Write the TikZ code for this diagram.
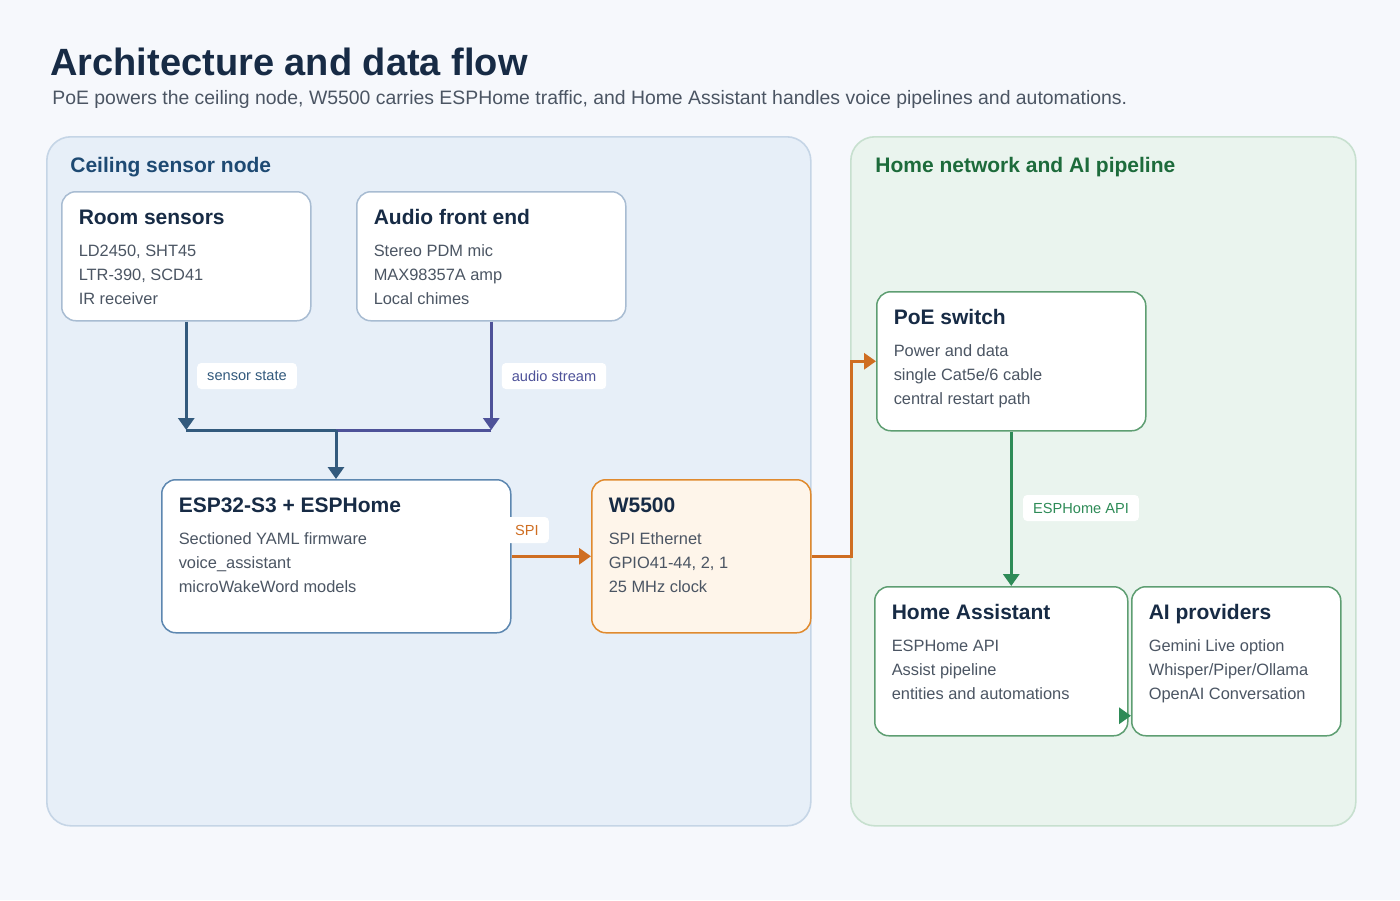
\documentclass[tikz,border=0pt]{standalone}
\usepackage{fontspec}
\setmainfont{Liberation Sans}
\usetikzlibrary{arrows.meta,positioning,backgrounds}
\definecolor{pagebg}{RGB}{246,248,252}
\definecolor{titlenavy}{RGB}{23,43,69}
\definecolor{bodygrey}{RGB}{75,85,99}
\definecolor{ceilingfill}{RGB}{231,239,248}
\definecolor{ceilingline}{RGB}{197,213,230}
\definecolor{ceilingtext}{RGB}{30,74,115}
\definecolor{homefill}{RGB}{234,244,238}
\definecolor{homeline}{RGB}{199,224,207}
\definecolor{hometext}{RGB}{29,107,59}
\definecolor{cardline}{RGB}{168,188,210}
\definecolor{espline}{RGB}{93,135,176}
\definecolor{ethfill}{RGB}{254,245,234}
\definecolor{ethline}{RGB}{224,138,46}
\definecolor{greencard}{RGB}{94,158,114}
\definecolor{sensorblue}{RGB}{51,90,125}
\definecolor{audiopurple}{RGB}{78,82,153}
\definecolor{spiorange}{RGB}{207,110,34}
\definecolor{apigreen}{RGB}{46,139,87}
\newcommand{\cardtitle}{\fontsize{10.5}{12}\selectfont\bfseries\color{titlenavy}}
\newcommand{\cardtext}[4]{\parbox[t][#2][t]{#1}{\fontsize{8.2}{12}\selectfont\color{bodygrey}\rule{0pt}{16.5pt}{\cardtitle #3}\\[4pt]#4}}
\tikzset{
  panel/.style={draw, rounded corners=12pt, line width=0.8pt, anchor=north west, inner sep=0pt},
  paneltitle/.style={anchor=base west, inner sep=0pt, font=\fontsize{10.5}{12}\selectfont\bfseries},
  card/.style={draw, fill=white, rounded corners=7pt, line width=0.75pt, anchor=north west, inner xsep=8.5pt, inner ysep=0pt, align=left},
  tag/.style={fill=white, rounded corners=2pt, font=\fontsize{7.3}{9}\selectfont, inner xsep=5pt, inner ysep=0pt, minimum height=13pt},
  flowline/.style={line width=1.5pt},
  flow/.style={flowline, -{Triangle[length=6pt,width=8pt]}},
}

\begin{document}
\begin{tikzpicture}[x=0.5pt,y=-0.5pt]
\useasboundingbox (0,0) rectangle (1400,900);
\fill[pagebg] (0,0) rectangle (1400,900);

% Heading
\node[anchor=base west, inner sep=0pt, text=titlenavy, font=\fontsize{19}{22}\selectfont\bfseries] (heading) at (50,75) {Architecture and data flow};
\node[anchor=base west, inner sep=0pt, text=bodygrey, font=\fontsize{9.7}{11}\selectfont] (subheading) at (52,104) {PoE powers the ceiling node, W5500 carries ESPHome traffic, and Home Assistant handles voice pipelines and automations.};

% Panels
\node[panel, draw=ceilingline, fill=ceilingfill, minimum width=382pt, minimum height=344.5pt] (ceiling) at (46,136) {};
\node[paneltitle, text=ceilingtext] (ceilingtitle) at (70,172) {Ceiling sensor node};
\node[panel, draw=homeline, fill=homefill, minimum width=252.5pt, minimum height=344.5pt] (home) at (850,136) {};
\node[paneltitle, text=hometext] (hometitle) at (875,172) {Home network and AI pipeline};

% Ceiling node cards
\node[card, draw=cardline] (sensors) at (61,191) {\cardtext{107.5pt}{64.5pt}{Room sensors}{LD2450, SHT45\\LTR-390, SCD41\\IR receiver}};
\node[card, draw=cardline] (audio) at (356,191) {\cardtext{117.5pt}{64.5pt}{Audio front end}{Stereo PDM mic\\MAX98357A amp\\Local chimes}};
\node[card, draw=espline] (esp) at (161,479) {\cardtext{157.5pt}{76.5pt}{ESP32-S3 + ESPHome}{Sectioned YAML firmware\\voice\_assistant\\microWakeWord models}};
\node[card, draw=ethline, fill=ethfill] (w5500) at (591,479) {\cardtext{92.5pt}{76.5pt}{W5500}{SPI Ethernet\\GPIO41-44, 2, 1\\25 MHz clock}};

% Home network cards
\node[card, draw=greencard] (poe) at (876,291) {\cardtext{117.5pt}{69.5pt}{PoE switch}{Power and data\\single Cat5e/6 cable\\central restart path}};
\node[card, draw=greencard] (ha) at (874,586) {\cardtext{109.5pt}{74.5pt}{Home Assistant}{ESPHome API\\Assist pipeline\\entities and automations}};
\node[card, draw=greencard] (ai) at (1131,586) {\cardtext{87.5pt}{74.5pt}{AI providers}{Gemini Live option\\Whisper/Piper/Ollama\\OpenAI Conversation}};

% Sensor and audio paths into the ESP32
\coordinate (join) at (336,430);
\draw[flow, sensorblue] (sensors.south) -- (sensors.south |- join);
\draw[flow, audiopurple] (audio.south) -- (audio.south |- join);
\draw[flowline, audiopurple] (audio.south |- join) -- (join);
\draw[flowline, sensorblue] (sensors.south |- join) -- (join);
\draw[flow, sensorblue] (join) -- (join |- esp.north);
\node[tag, text=sensorblue] (sensortag) at (247,376) {sensor state};
\node[tag, text=audiopurple] (audiotag) at (554,376) {audio stream};

% Ethernet uplink
\draw[flow, spiorange] (esp.east) -- (w5500.west);
\node[tag, text=spiorange] (spitag) at (527,530) {SPI};
\draw[flow, spiorange] (w5500.east) -- ++(40,0) |- (poe.west);

% Home Assistant side
\draw[flow, apigreen] (poe.south) -- (poe.south |- ha.north);
\node[tag, text=apigreen] (apitag) at (1081,508) {ESPHome API};
\draw[flow, apigreen] ([yshift=-27.25pt]ha.east) -- ([yshift=-27.25pt]ai.west);

\end{tikzpicture}
\end{document}
